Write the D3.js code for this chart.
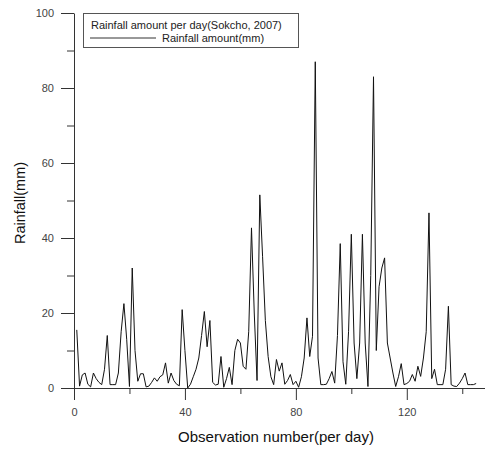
<!DOCTYPE html>
<html>
<head>
<meta charset="utf-8">
<script src="https://d3js.org/d3.v7.min.js"></script>
<style>
  body { margin: 0; background: #fff; }
  svg { display: block; font-family: "Liberation Sans", Arial, sans-serif; }
</style>
</head>
<body>
<div id="chart"></div>
<script>
// daily rainfall (mm), observation 1..145
const rainfall = [
  15.5, 0.5, 3.5, 4, 1, 0.3, 4, 2.5, 1.5, 0.9,
  5, 14, 0.9, 0.9, 0.9, 4, 15, 22.5, 13, 0.4,
  32, 10, 1.8, 3.8, 3.8, 0.3, 0.5, 1.5, 2.7, 1.8,
  3, 3.5, 6.7, 1.3, 4, 2, 1, 0.6, 20.9, 10,
  0, 1, 3, 5, 8, 14, 20.4, 11, 18, 1.5,
  0.8, 1, 8.4, 0.2, 2.5, 5.5, 0.9, 10, 13, 12,
  5.8, 5, 15, 42.7, 20, 2, 51.5, 35, 18, 8.4,
  3, 0.9, 7.6, 4.5, 6.7, 1, 2, 3.6, 0.9, 1.8,
  0.2, 3, 8, 18.7, 8.4, 13.8, 87, 8, 0.9, 0.9,
  1, 2.5, 4.4, 1.3, 14, 38.5, 7, 1, 15, 41,
  12, 2.5, 12, 41, 12, 0.4, 30, 83, 10, 27,
  32, 34.7, 12, 8, 4, 0.4, 3, 6.5, 0.9, 1.2,
  1.8, 3.6, 1.8, 5.8, 3.1, 8, 15, 46.7, 2.5, 5,
  0.9, 0.9, 0.9, 5, 21.8, 0.9, 0.5, 0.4, 1.3, 2.5,
  4, 0.9, 0.9, 0.9, 1.2
];
const firstObs = 1;

const xMajorTicks = [0, 40, 80, 120];
const xMinorTicks = [20, 60, 100, 140];
const yMajorTicks = [0, 20, 40, 60, 80, 100];
const yMinorTicks = [10, 30, 50, 70, 90];

const legendTitle = 'Rainfall amount per day(Sokcho, 2007)';
const seriesName = 'Rainfall amount(mm)';

const width = 485, height = 449;
const margin = {top: 13, right: 0, bottom: 61, left: 74};

const svg = d3.select('#chart')
  .append('svg')
  .attr('width', width)
  .attr('height', height);

const x = d3.scaleLinear()
  .domain([0, 148.2])
  .range([margin.left, width - margin.right]);

const y = d3.scaleLinear()
  .domain([0, 100])
  .range([height - margin.bottom, margin.top]);

const axisColor = '#333';

// x axis, ticks pointing down
svg.append('g')
  .attr('transform', `translate(0,${y(0)})`)
  .call(d3.axisBottom(x).tickValues(xMajorTicks).tickSize(12).tickSizeOuter(0).tickPadding(8));
svg.append('g')
  .attr('transform', `translate(0,${y(0)})`)
  .call(d3.axisBottom(x).tickValues(xMinorTicks).tickSize(6).tickFormat(''))
  .call(g => g.select('.domain').remove());

// y axis, ticks pointing left
svg.append('g')
  .attr('transform', `translate(${x(0)},0)`)
  .call(d3.axisLeft(y).tickValues(yMajorTicks).tickSize(13).tickSizeOuter(0).tickPadding(7));
svg.append('g')
  .attr('transform', `translate(${x(0)},0)`)
  .call(d3.axisLeft(y).tickValues(yMinorTicks).tickSize(7).tickFormat(''))
  .call(g => g.select('.domain').remove());

svg.selectAll('.domain, .tick line').attr('stroke', axisColor);
svg.selectAll('.tick text')
  .attr('fill', '#444')
  .style('font-size', '11px');

// axis titles
svg.append('text')
  .attr('x', 276)
  .attr('y', 442)
  .attr('text-anchor', 'middle')
  .style('font-size', '15px')
  .attr('fill', '#111')
  .text('Observation number(per day)');

svg.append('text')
  .attr('transform', 'translate(25,203) rotate(-90)')
  .attr('text-anchor', 'middle')
  .style('font-size', '14.5px')
  .attr('fill', '#111')
  .text('Rainfall(mm)');

// the series
const line = d3.line()
  .x((d, i) => x(firstObs + i))
  .y(d => y(d));

svg.append('path')
  .datum(rainfall)
  .attr('fill', 'none')
  .attr('stroke', '#111')
  .attr('stroke-width', 1)
  .attr('d', line);

// legend
const legend = svg.append('g');
legend.append('rect')
  .attr('x', 83.5)
  .attr('y', 13.5)
  .attr('width', 215)
  .attr('height', 34)
  .attr('fill', '#fff')
  .attr('stroke', '#555');
legend.append('text')
  .attr('x', 91)
  .attr('y', 29)
  .style('font-size', '11px')
  .attr('fill', '#222')
  .text(legendTitle);
legend.append('line')
  .attr('x1', 90)
  .attr('x2', 156)
  .attr('y1', 38)
  .attr('y2', 38)
  .attr('stroke', '#333');
legend.append('text')
  .attr('x', 162)
  .attr('y', 42)
  .style('font-size', '11px')
  .attr('fill', '#222')
  .text(seriesName);
</script>
</body>
</html>
